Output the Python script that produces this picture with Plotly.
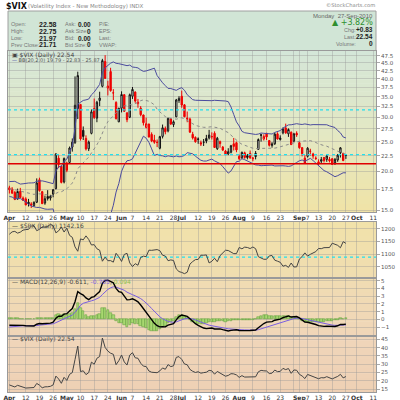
import math
import pandas as pd
import plotly.graph_objects as go

# ---------------- data ----------------
prior_closes = [24.62, 21.48, 21.60, 26.08, 26.11, 26.00, 24.93, 25.40, 23.96, 22.73,
                22.25, 20.63, 20.02, 20.72, 19.94, 21.24, 20.64, 20.53, 19.50,
                18.72, 18.81, 18.83, 17.42, 17.79, 17.92, 18.57, 18.57, 17.58, 17.58,
                17.69, 17.54, 16.91, 16.62, 16.97, 16.87, 17.67, 17.77, 18.00, 17.59,
                17.13, 17.59, 17.59]

opens = [17.70, 17.55, 17.10, 16.30, 17.25, 16.40, 16.30, 15.90, 15.70, 15.50,
         15.90, 18.80, 17.20, 15.80, 16.60, 16.40, 16.90, 17.60, 22.10, 20.80,
         18.50, 21.30, 21.40, 24.00, 24.80, 32.00, 33.00, 27.20, 25.60, 23.70,
         26.60, 32.00, 29.80, 34.00, 37.80, 45.50, 37.30, 42.20, 36.00, 33.50,
         29.00, 32.10, 35.50, 31.00, 30.00, 35.10, 36.20, 33.20, 32.10, 30.50,
         27.80, 28.50, 26.40, 25.30, 24.90, 23.80, 26.00, 27.60, 27.10, 29.60,
         28.40, 30.10, 34.00, 35.10, 32.90, 29.80, 29.60, 26.40, 25.80, 25.50,
         24.80, 24.90, 25.60, 25.70, 25.90, 26.60, 23.70, 25.00, 24.00, 23.30,
         22.80, 23.10, 24.60, 24.80, 22.40, 22.20, 23.00, 22.50, 22.90, 22.00,
         22.90, 23.60, 26.30, 25.50, 26.60, 25.20, 24.30, 24.60, 26.50, 25.40,
         26.70, 27.70, 26.50, 26.80, 25.10, 26.60, 24.80, 23.90, 22.10, 22.40,
         23.30, 22.80, 22.10, 21.50, 21.60, 22.20, 21.90, 21.90, 22.00, 21.30,
         21.80, 23.00, 22.90, 22.58]

highs = [17.98, 17.80, 17.30, 17.60, 17.70, 16.60, 16.50, 16.30, 15.90, 16.00,
         19.00, 19.10, 17.30, 16.70, 17.40, 16.80, 17.50, 22.90, 22.60, 20.90,
         22.20, 21.50, 24.10, 25.60, 40.70, 42.15, 33.10, 28.00, 26.20, 25.20,
         31.80, 34.50, 33.90, 36.30, 46.40, 47.70, 39.40, 43.40, 37.00, 33.80,
         32.20, 36.40, 35.60, 31.10, 35.80, 37.60, 36.40, 34.40, 32.60, 30.60,
         29.90, 28.60, 26.80, 26.30, 25.40, 26.10, 28.40, 28.00, 29.90, 29.80,
         29.30, 34.40, 35.10, 36.60, 33.10, 31.30, 29.90, 26.90, 26.00, 25.80,
         25.20, 25.50, 26.30, 27.30, 26.80, 27.00, 25.90, 25.20, 24.20, 23.50,
         23.80, 24.40, 25.70, 25.00, 22.70, 23.20, 23.20, 22.80, 23.40, 22.30,
         23.30, 25.60, 26.50, 26.40, 26.70, 25.30, 24.90, 26.70, 26.80, 26.20,
         27.80, 28.60, 27.60, 27.00, 26.70, 27.00, 25.00, 24.00, 22.60, 24.00,
         23.70, 23.00, 22.40, 21.90, 22.30, 22.30, 22.60, 22.30, 22.10, 22.10,
         22.80, 24.00, 23.00, 22.75]

lows = [16.97, 16.90, 16.15, 16.20, 16.40, 16.05, 15.55, 15.40, 15.23, 15.40,
        15.80, 17.20, 15.70, 15.60, 16.10, 16.10, 16.50, 17.50, 20.50, 18.30,
        18.30, 19.90, 21.30, 23.20, 24.60, 29.60, 25.20, 25.30, 23.40, 23.30,
        26.40, 29.60, 28.90, 32.60, 37.50, 40.00, 35.30, 36.30, 34.10, 29.50,
        28.90, 31.10, 31.30, 28.90, 29.80, 34.40, 33.40, 32.20, 30.20, 28.20,
        27.60, 25.80, 24.90, 24.60, 24.00, 23.60, 25.60, 26.40, 26.80, 28.30,
        27.90, 30.00, 33.40, 32.20, 30.00, 28.90, 26.70, 25.40, 24.80, 24.60,
        24.20, 24.20, 24.70, 25.40, 25.40, 23.90, 23.50, 23.90, 23.30, 22.60,
        22.60, 22.90, 23.40, 23.10, 21.80, 21.90, 22.00, 21.90, 22.00, 21.60,
        21.90, 23.50, 25.00, 25.20, 25.30, 24.10, 23.90, 24.40, 25.40, 25.20,
        26.40, 26.50, 25.90, 24.40, 24.90, 25.90, 23.70, 22.40, 21.20, 22.20,
        22.50, 22.00, 21.80, 21.00, 21.20, 21.40, 21.50, 21.40, 21.00, 21.00,
        21.50, 22.20, 21.60, 21.97]

closes = [17.47, 17.02, 16.23, 17.22, 16.46, 16.14, 15.58, 15.73, 15.59, 15.89,
          18.36, 17.34, 15.73, 16.32, 16.35, 16.62, 17.47, 22.81, 21.08, 18.44,
          22.05, 20.19, 23.84, 24.91, 32.80, 40.95, 25.52, 26.00, 23.68, 24.91,
          31.24, 29.96, 33.55, 34.61, 45.79, 40.10, 37.89, 36.61, 35.95, 29.68,
          32.07, 35.54, 31.36, 29.46, 35.48, 36.93, 33.84, 33.55, 30.57, 28.79,
          28.58, 25.87, 25.13, 24.88, 24.84, 25.95, 27.72, 26.91, 29.74, 28.53,
          29.00, 34.13, 34.54, 32.86, 30.12, 29.65, 26.84, 25.71, 24.98, 25.44,
          24.56, 24.89, 25.14, 26.25, 25.97, 23.93, 25.64, 24.63, 23.47, 22.73,
          23.19, 24.25, 24.13, 23.50, 22.01, 23.08, 22.21, 22.22, 22.14, 22.10,
          22.37, 25.39, 26.24, 25.99, 25.89, 24.33, 24.59, 26.44, 25.49, 25.66,
          27.46, 26.70, 27.37, 24.45, 26.50, 26.30, 23.89, 22.85, 21.31, 23.80,
          23.25, 22.45, 22.05, 21.21, 21.85, 21.72, 22.45, 21.67, 21.09, 21.90,
          22.60, 23.87, 21.71, 22.54]

spx = [1178.10, 1187.44, 1189.44, 1182.45, 1186.44, 1194.37, 1196.48, 1197.30, 1210.65, 1211.67,
       1192.13, 1197.52, 1207.17, 1205.94, 1208.67, 1217.28, 1212.05, 1183.71, 1191.36, 1206.78,
       1186.69, 1202.26, 1173.60, 1165.87, 1128.15, 1110.88, 1159.73, 1155.79, 1171.67, 1157.44,
       1135.68, 1136.94, 1120.80, 1115.05, 1071.59, 1087.69, 1073.65, 1074.03, 1067.95, 1103.06,
       1089.41, 1070.71, 1098.38, 1102.83, 1064.88, 1050.47, 1062.00, 1055.69, 1086.84, 1091.60,
       1089.63, 1115.23, 1114.61, 1116.04, 1117.51, 1113.20, 1095.31, 1092.04, 1073.69, 1076.76,
       1074.57, 1041.24, 1030.71, 1027.37, 1022.58, 1028.06, 1060.27, 1070.25, 1077.96, 1078.75,
       1095.34, 1095.17, 1096.48, 1064.88, 1071.25, 1083.48, 1069.59, 1093.67, 1102.66, 1115.01,
       1113.84, 1106.13, 1101.53, 1101.60, 1125.86, 1120.46, 1127.24, 1125.81, 1121.64, 1127.79,
       1121.06, 1089.47, 1083.61, 1079.25, 1079.38, 1092.54, 1094.16, 1075.63, 1071.69, 1067.36,
       1051.87, 1055.33, 1047.22, 1064.59, 1048.92, 1049.33, 1080.29, 1090.10, 1104.51, 1091.84,
       1098.87, 1104.18, 1109.55, 1121.90, 1121.10, 1125.07, 1124.66, 1125.59, 1142.71, 1139.78,
       1134.28, 1124.83, 1148.67, 1142.16]

holidays = ["2010-04-02", "2010-05-31", "2010-07-05", "2010-09-06"]
tick_dates = ["2010-04-01", "2010-04-12", "2010-04-19", "2010-04-26", "2010-05-03", "2010-05-10",
              "2010-05-17", "2010-05-24", "2010-06-01", "2010-06-07", "2010-06-14", "2010-06-21",
              "2010-06-28", "2010-07-01", "2010-07-12", "2010-07-19", "2010-07-26", "2010-08-02",
              "2010-08-09", "2010-08-16", "2010-08-23", "2010-08-30", "2010-09-01", "2010-09-07",
              "2010-09-13", "2010-09-20", "2010-09-27", "2010-10-01", "2010-10-11"]
tick_labels = ["<b>Apr</b>", "12", "19", "26", "<b>May</b>", "10", "17", "24", "<b>Jun</b>", "7", "14", "21",
               "28", "<b>Jul</b>", "12", "19", "26", "<b>Aug</b>", "9", "16", "23", "", "<b>Sep</b>", "7",
               "13", "20", "27", "<b>Oct</b>", "11"]

vix_ticks = [15.0, 17.5, 20.0, 22.5, 25.0, 27.5, 30.0, 32.5, 35.0, 37.5, 40.0, 42.5, 45.0, 47.5]
spx_ticks = [1050, 1100, 1150, 1200]
macd_ticks = [-1, 0, 1, 2, 3, 4, 5]
vixline_ticks = [15, 20, 25, 30, 35, 40, 45]
cyan_levels = [31.7, 22.7]
red_level = 21.2
spx_cyan_level = 1088

# ---------------- derived ----------------
cal = pd.bdate_range("2010-04-01", "2010-10-15")
cal = [d for d in cal if d.strftime("%Y-%m-%d") not in holidays]
cal_idx = {d.strftime("%Y-%m-%d"): i for i, d in enumerate(cal)}
tick_pos = [cal_idx[d] for d in tick_dates]
n = len(closes)
xs = list(range(n))

full = pd.Series(prior_closes + closes)
mid = full.rolling(20).mean()
sd = full.rolling(20).std(ddof=0)
upper = (mid + 2 * sd).tolist()[-n:]
lower = (mid - 2 * sd).tolist()[-n:]
mid = mid.tolist()[-n:]
lower = [v if v > 0 else None for v in lower]
ema12 = full.ewm(span=12, adjust=False).mean()
ema26 = full.ewm(span=26, adjust=False).mean()
macd = ema12 - ema26
signal = macd.ewm(span=9, adjust=False).mean()
hist = (macd - signal).tolist()[-n:]
macd = macd.tolist()[-n:]
signal = signal.tolist()[-n:]

prev = [prior_closes[-1]] + closes[:-1]
is_red = [c < p for c, p in zip(closes, prev)]

# ---------------- layout geometry ----------------
W = H = 400
ML, MR, MT, MB = 8, 24, 51, 8
PW, PH = W - ML - MR, H - MT - MB


def py(ypx):
    return 1 - (ypx - MT) / PH


def pxx(xpx):
    return (xpx - ML) / PW


XR = [-0.5, 134.0]
FONT = "DejaVu Sans"
HFONT = "Liberation Sans"
GRID = "rgba(150,150,150,0.38)"
LINE = "#9a9a9a"

fig = go.Figure()

# BB
fig.add_trace(go.Scatter(x=xs, y=upper, mode="lines", line=dict(color="#4b4b9e", width=1), xaxis="x", yaxis="y"))
fig.add_trace(go.Scatter(x=xs, y=lower, mode="lines", line=dict(color="#4b4b9e", width=1), xaxis="x", yaxis="y"))
fig.add_trace(go.Scatter(x=xs, y=mid, mode="lines", line=dict(color="#8a8a8a", width=1, dash="dot"), xaxis="x", yaxis="y"))

# candles
for red, col in [(False, "#111111"), (True, "#ee0000")]:
    sel = [i for i in range(n) if is_red[i] == red]
    fig.add_trace(go.Candlestick(
        x=[xs[i] for i in sel], open=[opens[i] for i in sel], high=[highs[i] for i in sel],
        low=[lows[i] for i in sel], close=[closes[i] for i in sel],
        increasing=dict(line=dict(color=col, width=1), fillcolor="white"),
        decreasing=dict(line=dict(color=col, width=1), fillcolor=col),
        whiskerwidth=0, xaxis="x", yaxis="y", hoverinfo="skip"))

for lv in cyan_levels:
    fig.add_trace(go.Scatter(x=XR, y=[lv, lv], mode="lines", line=dict(color="#22e0ee", width=1.2, dash="dot"), xaxis="x", yaxis="y"))
fig.add_trace(go.Scatter(x=XR, y=[red_level, red_level], mode="lines", line=dict(color="#e00000", width=1.5), xaxis="x", yaxis="y"))

# SPX
fig.add_trace(go.Scatter(x=XR, y=[spx_cyan_level] * 2, mode="lines", line=dict(color="#22e0ee", width=1.2, dash="dot"), xaxis="x2", yaxis="y2"))
fig.add_trace(go.Scatter(x=xs, y=spx, mode="lines", line=dict(color="#444444", width=1), xaxis="x2", yaxis="y2"))

# MACD
fig.add_trace(go.Bar(x=xs, y=hist, marker=dict(color="#a8d870", line=dict(color="#5a9a3a", width=0.5)), width=0.9, xaxis="x3", yaxis="y3"))
fig.add_trace(go.Scatter(x=xs, y=signal, mode="lines", line=dict(color="#7a5ee0", width=1), xaxis="x3", yaxis="y3"))
fig.add_trace(go.Scatter(x=xs, y=macd, mode="lines", line=dict(color="#000000", width=1.4), xaxis="x3", yaxis="y3"))

# VIX line
fig.add_trace(go.Scatter(x=xs, y=closes, mode="lines", line=dict(color="#444444", width=1), xaxis="x4", yaxis="y4"))

# ---------------- backgrounds ----------------
shapes = []


def lerp(stops, t):
    for (t0, c0), (t1, c1) in zip(stops[:-1], stops[1:]):
        if t0 <= t <= t1:
            f = (t - t0) / (t1 - t0) if t1 > t0 else 0
            return "rgb(%d,%d,%d)" % tuple(round(a + (b - a) * f) for a, b in zip(c0, c1))
    return "rgb(%d,%d,%d)" % stops[-1][1]


def grad(y0, y1, stops, k):
    step = (y1 - y0) / k
    for i in range(k):
        a = y0 + i * step
        b = a + step + 0.6
        shapes.append(dict(type="rect", xref="paper", yref="paper", x0=0, x1=1, y0=py(min(b, y1)), y1=py(a),
                           fillcolor=lerp(stops, (i + 0.5) / k), line=dict(width=0), layer="below"))


# header box
shapes.append(dict(type="rect", xref="paper", yref="paper", x0=0, x1=1, y0=py(51), y1=py(11),
                   fillcolor="rgb(209,229,214)", line=dict(color="#a0a0a0", width=1), layer="below"))
grad(51, 212, [(0, (212, 230, 216)), (0.5, (227, 232, 196)), (1, (240, 227, 166))], 40)
grad(222, 278, [(0, (241, 226, 170)), (1, (240, 221, 176))], 12)
grad(278, 335.5, [(0, (240, 220, 178)), (1, (240, 214, 184))], 12)
grad(335.5, 392, [(0, (240, 214, 186)), (1, (238, 208, 180))], 12)

# ---------------- annotations ----------------
ann = []


def txt(x, y, s, size=6, color="#444", anchor="left", bold=False, family=FONT):
    ann.append(dict(xref="paper", yref="paper", x=pxx(x), y=py(y), text=("<b>%s</b>" % s) if bold else s,
                    showarrow=False, xanchor=anchor, yanchor="middle",
                    font=dict(size=size, color=color, family=family)))


txt(4, 6, "$VIX", 8, "#111", bold=True)
txt(26, 6.5, "(Volatility Index - New Methodology) INDX", 5.5, "#888")
txt(377, 4.5, "©StockCharts.com", 5.2, "#888", "right")
rows_y = [24.3, 31.3, 38.0, 44.5]
for y, lab, val, lab2, val2, lab3 in zip(rows_y, ["Open:", "High:", "Low:", "Prev Close:"],
                                          ["22.58", "22.75", "21.97", "21.71"],
                                          ["Ask:", "Ask Size:", "Bid:", "Bid Size:"],
                                          ["0.00", "0", "0.00", "0"], ["P/E:", "EPS:", "Last:", "VWAP:"]):
    txt(9, y, lab, 5.5, "#777", family=HFONT)
    txt(59, y, val, 7, "#222", "right", True, HFONT)
    txt(63, y, lab2, 5.5, "#777", family=HFONT)
    txt(93, y, val2, 6.5, "#222", "right", True, HFONT)
    txt(97, y, lab3, 5.5, "#777", family=HFONT)
txt(375, 15.7, "Monday  27-Sep-2010", 6, "#666", "right", family=HFONT)
txt(375, 22.5, "▲ +3.82%", 8, "#2f8f2f", "right")
for y, lab, val in [(29.5, "Chg:", "+0.83"), (36.5, "Last:", "22.54"), (43.7, "Volume:", "0")]:
    txt(358, y, lab, 5.5, "#777", "right", family=HFONT)
    txt(375, y, val, 6.5, "#222", "right", True, HFONT)

txt(10, 54.8, "▣ $VIX (Daily) 22.54", 6, "#444")
txt(10, 60.5, "<span style='color:#4b4b9e'>—</span> BB(20,2.0) 19.79 - 22.83 - 25.87", 5, "#555")
txt(10, 225.5, "<span style='color:#333'>—</span> $SPX (Daily) 1142.16", 6, "#444")
txt(10, 281.5, "— MACD(12,26,9) -0.611, <span style='color:#7a5ee0'>-0.705</span>, "
               "<span style='color:#8cc050'>0.094</span>", 6, "#444")
txt(10, 338.8, "— $VIX (Daily) 22.54", 6, "#444")

# ---------------- axes ----------------
xcommon = dict(range=XR, tickvals=tick_pos, ticktext=tick_labels, showgrid=True, gridcolor=GRID, gridwidth=1,
               showline=True, mirror=True, linecolor=LINE, linewidth=1, zeroline=False, ticks="",
               tickfont=dict(size=6, color="#333", family=FONT), automargin=False, tickangle=0,
               rangeslider=dict(visible=False), fixedrange=True)
ycommon = dict(side="right", showgrid=True, gridcolor=GRID, gridwidth=1, showline=True, mirror=True,
               linecolor=LINE, linewidth=1, zeroline=False, ticks="outside", ticklen=3, tickcolor="#aaa",
               tickfont=dict(size=5.5, color="#555", family=FONT), automargin=False, fixedrange=True)

layout = dict(
    width=W, height=H, margin=dict(l=ML, r=MR, t=MT, b=MB, pad=0),
    paper_bgcolor="white", plot_bgcolor="rgba(0,0,0,0)", showlegend=False,
    font=dict(family=FONT), shapes=shapes, annotations=ann, bargap=0, barmode="overlay",
    xaxis=dict(xcommon, anchor="y", showticklabels=True),
    xaxis2=dict(xcommon, anchor="y2", matches="x", showticklabels=False),
    xaxis3=dict(xcommon, anchor="y3", matches="x", showticklabels=False),
    xaxis4=dict(xcommon, anchor="y4", matches="x", showticklabels=True),
    yaxis=dict(ycommon, anchor="x", domain=[py(212), 1], type="log",
               range=[math.log10(14.78), math.log10(49.2)], tickvals=vix_ticks,
               ticktext=["%.1f" % v for v in vix_ticks]),
    yaxis2=dict(ycommon, anchor="x2", domain=[py(278), py(222)], range=[1005.4, 1226.4], tickvals=spx_ticks),
    yaxis3=dict(ycommon, anchor="x3", domain=[py(335.5), py(278)], range=[-2.1, 5.35], tickvals=macd_ticks),
    yaxis4=dict(ycommon, anchor="x4", domain=[0, py(335.5)], range=[13.2, 47.3], tickvals=vixline_ticks),
)
fig.update_layout(layout)
fig.write_html("out.html", config={"displayModeBar": False},
               post_script="document.body.style.margin='0';document.body.style.padding='0';"
                           "document.documentElement.style.overflow='hidden';")
